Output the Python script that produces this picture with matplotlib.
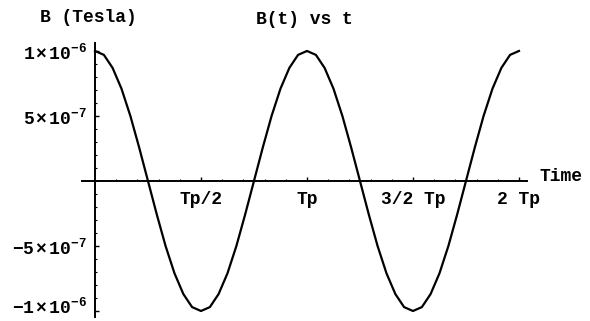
import matplotlib
matplotlib.use("Agg")
import matplotlib.pyplot as plt
import matplotlib.transforms as mtransforms
import numpy as np
from matplotlib.ticker import FixedLocator

plt.rcParams['font.family'] = ['Liberation Mono', 'DejaVu Sans Mono']
plt.rcParams['font.weight'] = 'bold'
plt.rcParams['mathtext.fontset'] = 'custom'
plt.rcParams['mathtext.rm'] = 'Liberation Mono:bold'
plt.rcParams['mathtext.it'] = 'Liberation Mono:bold'
plt.rcParams['mathtext.bf'] = 'Liberation Mono:bold'

# time in units of Tp, field in units of 1e-6 Tesla
t_tp = [0.000, 0.042, 0.083, 0.125, 0.167, 0.208, 0.250, 0.292, 0.333, 0.375,
        0.417, 0.458, 0.500, 0.542, 0.583, 0.625, 0.667, 0.708, 0.750, 0.792,
        0.833, 0.875, 0.917, 0.958, 1.000, 1.042, 1.083, 1.125, 1.167, 1.208,
        1.250, 1.292, 1.333, 1.375, 1.417, 1.458, 1.500, 1.542, 1.583, 1.625,
        1.667, 1.708, 1.750, 1.792, 1.833, 1.875, 1.917, 1.958, 2.000]
b_micro = [1.00, 0.97, 0.87, 0.71, 0.50, 0.26, 0.00, -0.26, -0.50, -0.71,
           -0.87, -0.97, -1.00, -0.97, -0.87, -0.71, -0.50, -0.26, 0.00, 0.26,
           0.50, 0.71, 0.87, 0.97, 1.00, 0.97, 0.87, 0.71, 0.50, 0.26,
           0.00, -0.26, -0.50, -0.71, -0.87, -0.97, -1.00, -0.97, -0.87, -0.71,
           -0.50, -0.26, 0.00, 0.26, 0.50, 0.71, 0.87, 0.97, 1.00]

x_ticks = [0.5, 1.0, 1.5, 2.0]
x_tick_labels = ['Tp/2', 'Tp', '3/2 Tp', '2 Tp']
y_ticks = [-1.0, -0.5, 0.5, 1.0]
y_tick_labels = [r'$-1\times10^{-6}$', r'$-5\times10^{-7}$',
                 r'$5\times10^{-7}$', r'$1\times10^{-6}$']

fs = 13

fig = plt.figure(figsize=(5.9, 3.21), dpi=100)
ax = fig.add_axes([0, 0, 1, 1])
ax.plot(t_tp, b_micro, color='black', lw=1.6)

ax.set_xlim(-0.448, 2.335)
ax.set_ylim(-1.077, 1.392)

for s in ['top', 'right']:
    ax.spines[s].set_visible(False)
ax.spines['left'].set_position(('data', 0))
ax.spines['bottom'].set_position(('data', 0))
ax.spines['left'].set_bounds(-1.05, 1.06)
ax.spines['bottom'].set_bounds(-0.06, 2.04)
ax.spines['left'].set_linewidth(1.4)
ax.spines['bottom'].set_linewidth(1.4)

ax.xaxis.set_major_locator(FixedLocator(x_ticks))
ax.set_xticklabels(x_tick_labels)
ax.xaxis.set_minor_locator(FixedLocator(np.arange(0.1, 2.01, 0.1)))
ax.yaxis.set_major_locator(FixedLocator(y_ticks))
ax.set_yticklabels(y_tick_labels)
ax.yaxis.set_minor_locator(FixedLocator(np.arange(-1.0, 1.01, 0.1)))

ax.tick_params(axis='both', which='major', direction='in', length=3, width=1, labelsize=fs)
ax.tick_params(axis='both', which='minor', direction='in', length=1.5, width=0.8)
ax.tick_params(axis='x', pad=7)
ax.tick_params(axis='y', pad=6)

# lift the lowest y label a little so it stays inside the picture
low = ax.get_yticklabels()[0]
low.set_transform(low.get_transform() + mtransforms.ScaledTranslation(0, 4 / 72, fig.dpi_scale_trans))

ax.text(40 / 590, 1 - 17 / 321, 'B (Tesla)', transform=ax.transAxes,
        ha='left', va='center', fontsize=fs)
ax.text(304 / 590, 1 - 20 / 321, 'B(t) vs t', transform=ax.transAxes,
        ha='center', va='center', fontsize=fs)
ax.text(540 / 590, 1 - 177 / 321, 'Time', transform=ax.transAxes,
        ha='left', va='center', fontsize=fs)

fig.savefig('out.png', dpi=100)
